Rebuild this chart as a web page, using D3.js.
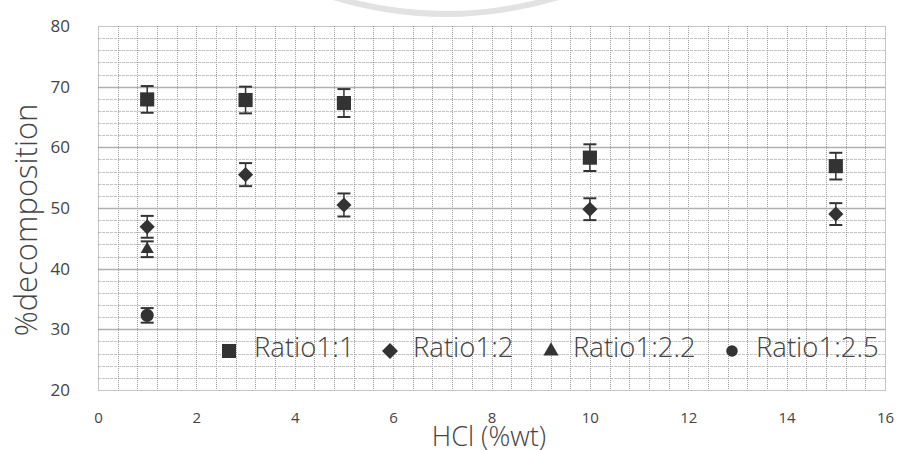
<!DOCTYPE html>
<html>
<head>
<meta charset="utf-8">
<script src="https://cdn.jsdelivr.net/npm/d3@7/dist/d3.min.js"></script>
<style>
  html, body { margin: 0; padding: 0; background: #fff; }
  svg { display: block; }
  text { font-family: "Open Sans", "Noto Sans", sans-serif; fill: #444; }
</style>
</head>
<body>
<svg id="chart" width="898" height="450"></svg>
<script>
const seriesNames = ["Ratio1:1", "Ratio1:2", "Ratio1:2.2", "Ratio1:2.5"];
const ratio11X = [1, 3, 5, 10, 15];
const ratio11Y = [67.9, 67.8, 67.3, 58.3, 56.9];
const ratio11Err = [2.2, 2.2, 2.3, 2.2, 2.2];
const ratio12X = [1, 3, 5, 10, 15];
const ratio12Y = [46.9, 55.5, 50.5, 49.8, 49.0];
const ratio12Err = [1.8, 1.9, 1.9, 1.8, 1.8];
const ratio122X = [1];
const ratio122Y = [43.2];
const ratio122Err = [1.3];
const ratio125X = [1];
const ratio125Y = [32.3];
const ratio125Err = [1.2];
const xTicks = [0, 2, 4, 6, 8, 10, 12, 14, 16];
const yTicks = [20, 30, 40, 50, 60, 70, 80];

(function () {
const svg = d3.select("#chart");
const pLeft = 98, pRight = 885, pTop = 26, pBottom = 390;
const x = d3.scaleLinear().domain([0, 16]).range([pLeft, pRight]);
const y = d3.scaleLinear().domain([20, 80]).range([pBottom, pTop]);

// faint watermark arc at top
svg.append("path").attr("d", "M330,-4 Q445,32 562,-4")
  .attr("fill", "none").attr("stroke", "#e2e2e2").attr("stroke-width", 6);

const g = svg.append("g");
g.selectAll(".hmin").data(d3.range(22, 80, 2).filter(v => v % 10 !== 0)).enter().append("line")
  .attr("x1", pLeft).attr("x2", pRight)
  .attr("y1", d => Math.round(y(d)) + 0.5).attr("y2", d => Math.round(y(d)) + 0.5)
  .attr("stroke", "#c4c4c4").attr("stroke-width", 1).attr("stroke-dasharray", "3,1");
g.selectAll(".vmin").data(d3.range(0.4, 15.99, 0.4)).enter().append("line")
  .attr("y1", pTop).attr("y2", pBottom)
  .attr("x1", d => Math.round(x(d)) + 0.5).attr("x2", d => Math.round(x(d)) + 0.5)
  .attr("stroke", "#9a9a9a").attr("stroke-width", 1).attr("stroke-dasharray", "1,1");
g.selectAll(".hmaj").data(yTicks.slice(1, -1)).enter().append("line")
  .attr("x1", pLeft).attr("x2", pRight)
  .attr("y1", d => Math.round(y(d)) + 0.5).attr("y2", d => Math.round(y(d)) + 0.5)
  .attr("stroke", "#b0b0b0").attr("stroke-width", 1.4);
g.append("rect").attr("x", pLeft + 0.5).attr("y", pTop + 0.5)
  .attr("width", pRight - pLeft).attr("height", pBottom - pTop)
  .attr("fill", "none").attr("stroke", "#8a8a8a").attr("stroke-width", 1).attr("stroke-dasharray", "1,1");

const yAxis = d3.axisLeft(y).tickValues(yTicks).tickSize(0).tickPadding(28);
const yg = svg.append("g").attr("transform", `translate(${pLeft},0)`).call(yAxis);
yg.select(".domain").remove();
yg.selectAll("text").style("font-size", "17px").attr("fill", "#555").style("font-family", "'Open Sans', sans-serif");

const xAxis = d3.axisBottom(x).tickValues(xTicks).tickSize(0).tickPadding(22);
const xg = svg.append("g").attr("transform", `translate(0,${pBottom})`).call(xAxis);
xg.select(".domain").remove();
xg.selectAll("text").style("font-size", "15px").attr("fill", "#555").style("font-family", "'Open Sans', sans-serif");

svg.append("text").attr("transform", `translate(37,220) rotate(-90)`)
  .attr("text-anchor", "middle").style("font-size", "31px").style("font-weight", 300).attr("fill", "#333")
  .text("%decomposition");
svg.append("text").attr("x", 489).attr("y", 446).attr("text-anchor", "middle")
  .style("font-size", "27px").style("font-weight", 300).attr("fill", "#333").text("HCl (%wt)");

const markColor = "#333";
const symbols = [d3.symbolSquare, d3.symbolSquare, d3.symbolTriangle, d3.symbolCircle];
const rotations = [0, 45, 0, 0];
const sizes = [200, 115, 75, 135];
const legendSizes = [196, 128, 100, 105];
const series = [
  { xs: ratio11X, ys: ratio11Y, es: ratio11Err },
  { xs: ratio12X, ys: ratio12Y, es: ratio12Err },
  { xs: ratio122X, ys: ratio122Y, es: ratio122Err },
  { xs: ratio125X, ys: ratio125Y, es: ratio125Err }
];

series.forEach((s, si) => {
  const data = s.xs.map((xv, i) => ({ x: xv, y: s.ys[i], e: s.es[i] }));
  const sg = svg.append("g");
  data.forEach(d => {
    const cx = x(d.x);
    sg.append("line").attr("x1", cx).attr("x2", cx).attr("y1", y(d.y + d.e)).attr("y2", y(d.y - d.e))
      .attr("stroke", markColor).attr("stroke-width", 1.5);
    [d.y + d.e, d.y - d.e].forEach(v => {
      sg.append("line").attr("x1", cx - 6.5).attr("x2", cx + 6.5).attr("y1", y(v)).attr("y2", y(v))
        .attr("stroke", markColor).attr("stroke-width", 2);
    });
  });
  sg.selectAll("path").data(data).enter().append("path")
    .attr("d", d3.symbol().type(symbols[si]).size(sizes[si]))
    .attr("transform", d => `translate(${x(d.x)},${y(d.y)}) rotate(${rotations[si]})`)
    .attr("fill", markColor);
});

const legendItems = [
  { mx: 229, tx: 254 },
  { mx: 390, tx: 413 },
  { mx: 551, tx: 573 },
  { mx: 732, tx: 756 }
];
const ly = 351;
legendItems.forEach((it, i) => {
  svg.append("path").attr("d", d3.symbol().type(symbols[i]).size(legendSizes[i]))
    .attr("transform", `translate(${it.mx},${ly}) rotate(${rotations[i]})`).attr("fill", markColor);
  svg.append("text").attr("x", it.tx).attr("y", 357).style("font-size", "27.5px").style("font-weight", 300)
    .attr("fill", "#333").text(seriesNames[i]);
});
})();
</script>
</body>
</html>
